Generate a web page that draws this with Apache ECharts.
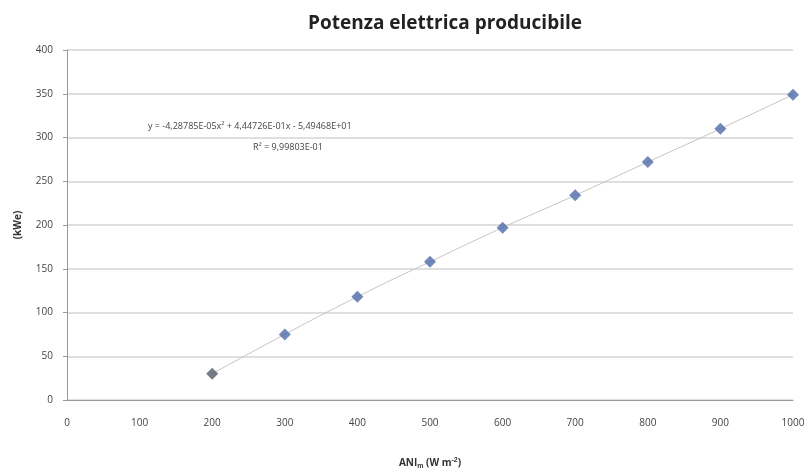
<!DOCTYPE html>
<html>
<head>
<meta charset="utf-8">
<script src="https://cdn.jsdelivr.net/npm/echarts@6/dist/echarts.min.js"></script>
<style>
  html, body { margin: 0; padding: 0; background: #fff; }
  #chart { width: 804px; height: 473px; }
</style>
</head>
<body>
<div id="chart"></div>
<script>
// valori
const ani = [200, 300, 400, 500, 600, 700, 800, 900, 1000];
const potenza = [30, 75, 118, 158, 197, 234, 272, 310, 349];
const yTicks = [0, 50, 100, 150, 200, 250, 300, 350, 400];
const eqText = 'y = -4,28785E-05x² + 4,44726E-01x - 5,49468E+01';
const r2Text = 'R² = 9,99803E-01';

const chartDom = document.getElementById('chart');
const myChart = echarts.init(chartDom);

const pts = ani.map((x, i) => [x, potenza[i]]);

const option = {
  animation: false,
  title: {
    text: 'Potenza elettrica producibile',
    left: 440,
    textAlign: 'center',
    top: 9,
    textStyle: {
      fontFamily: 'Open Sans',
      fontWeight: 'bold',
      fontSize: 19,
      color: '#222'
    }
  },
  grid: {
    left: 67,
    right: 11,
    top: 50,
    bottom: 73,
    outerBoundsMode: 'none'
  },
  xAxis: {
    type: 'value',
    min: 0,
    max: 1000,
    interval: 100,
    name: '{a|ANI}{s|m}{a| (W m}{p|-2}{a|)}',
    nameLocation: 'middle',
    nameGap: 57,
    nameTextStyle: {
      rich: {
        a: { fontSize: 10, fontWeight: 'bold', color: '#333', fontFamily: 'Open Sans' },
        s: { fontSize: 7, fontWeight: 'bold', color: '#333', verticalAlign: 'bottom', padding: [6, 0, 0, 0] },
        p: { fontSize: 7, fontWeight: 'bold', color: '#333', verticalAlign: 'top', padding: [0, 0, 6, 0] }
      }
    },
    axisLine: { show: true, lineStyle: { color: '#999' } },
    axisTick: { show: false },
    axisLabel: {
      color: '#444',
      fontSize: 10,
      margin: 18,
      fontFamily: 'Open Sans',
      formatter: v => String(v)
    },
    splitLine: { show: false }
  },
  yAxis: {
    type: 'value',
    min: yTicks[0],
    max: yTicks[yTicks.length - 1],
    interval: 50,
    name: '(kWe)',
    nameLocation: 'middle',
    nameGap: 44,
    nameTextStyle: { fontSize: 10, fontWeight: 'bold', color: '#333', fontFamily: 'Open Sans' },
    axisLine: { show: true, lineStyle: { color: '#999' } },
    axisTick: { show: true, length: 4, inside: false, lineStyle: { color: '#999' } },
    axisLabel: { color: '#444', fontSize: 10, margin: 14, fontFamily: 'Open Sans' },
    splitLine: { show: true, lineStyle: { color: '#d4d4d4', width: 1.5 } }
  },
  graphic: [
    {
      type: 'text',
      left: 148,
      top: 122,
      style: { text: eqText, fontSize: 9, fill: '#444', fontFamily: 'Open Sans' }
    },
    {
      type: 'text',
      left: 253,
      top: 143,
      style: { text: r2Text, fontSize: 9, fill: '#444', fontFamily: 'Open Sans' }
    }
  ],
  series: [
    {
      name: 'tendenza',
      type: 'line',
      data: pts,
      showSymbol: false,
      smooth: true,
      lineStyle: { color: '#c4c4c4', width: 1 },
      z: 1
    },
    {
      name: 'potenza',
      type: 'scatter',
      data: pts.map((p, i) => ({
        value: p,
        itemStyle: { color: i === 0 ? '#555a66' : '#4e6ba8' }
      })),
      symbol: 'diamond',
      symbolSize: 12,
      z: 3
    }
  ]
};
option && myChart.setOption(option);
</script>
</body>
</html>
